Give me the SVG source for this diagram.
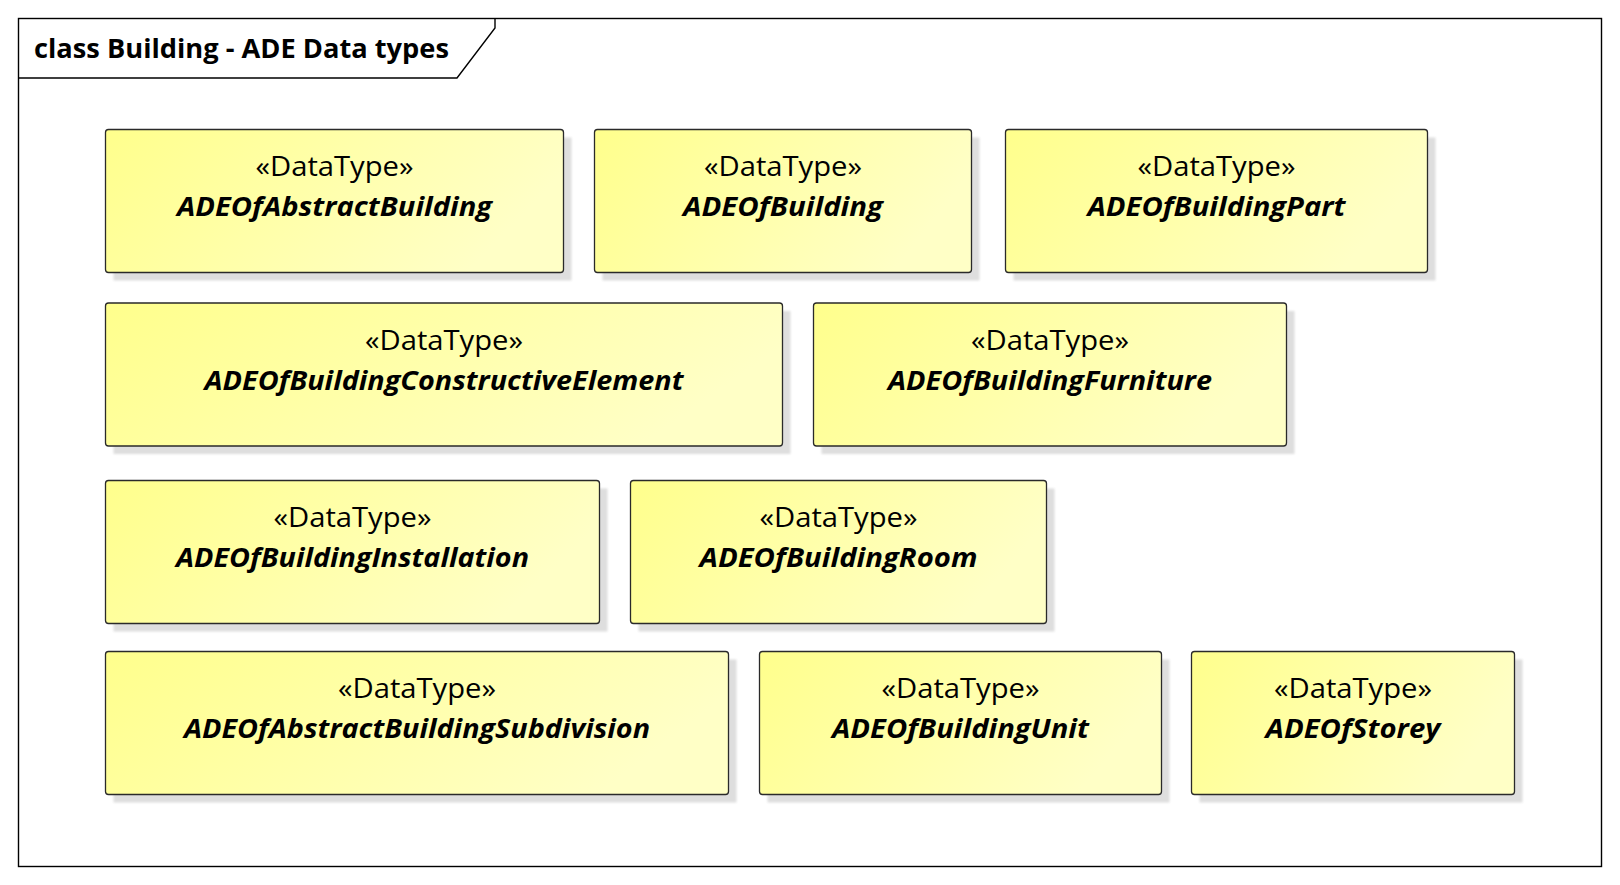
<svg xmlns="http://www.w3.org/2000/svg" width="1620" height="885" viewBox="0 0 1620 885">
<defs>
<linearGradient id="fill" x1="0" y1="0" x2="1" y2="0.3">
<stop offset="0" stop-color="#ffff8c"/>
<stop offset="1" stop-color="#ffffc6"/>
</linearGradient>
<filter id="blur" x="-5%" y="-5%" width="110%" height="110%"><feGaussianBlur stdDeviation="1"/></filter>
</defs>
<style>
.frame{fill:#fff;stroke:#000;stroke-width:1.4}
.hdr{fill:none;stroke:#000;stroke-width:1.4}
.title{font-family:"Open Sans","DejaVu Sans",sans-serif;font-weight:bold;font-size:27px;fill:#000}
.shadow{fill:#dedede;filter:url(#blur)}
.box{fill:url(#fill);stroke:#2a2a2a;stroke-width:1.3}
.st{font-family:"Open Sans","DejaVu Sans",sans-serif;font-size:27px;fill:#000;text-anchor:middle}
.nm{font-family:"Open Sans","DejaVu Sans",sans-serif;font-size:27px;font-weight:bold;font-style:italic;fill:#000;text-anchor:middle}
</style>
<rect width="1620" height="885" fill="#fff"/>
<rect class="frame" x="18.5" y="18.5" width="1583" height="848"/>
<path class="hdr" d="M18.5,78 H457 L495,28 V18.5"/>
<text class="title" x="34" y="58" textLength="415" lengthAdjust="spacingAndGlyphs">class Building - ADE Data types</text>
<g id="connectors"></g>
<g id="ADEOfAbstractBuilding">
<rect class="shadow" x="113.5" y="137.5" width="458" height="143"/>
<rect class="box" x="105.5" y="129.5" width="458" height="143" rx="3"/>
<text class="st" x="334.5" y="176" textLength="158" lengthAdjust="spacingAndGlyphs">«DataType»</text>
<text class="nm" x="334.5" y="216" textLength="315" lengthAdjust="spacingAndGlyphs">ADEOfAbstractBuilding</text>
</g>
<g id="ADEOfBuilding">
<rect class="shadow" x="602.5" y="137.5" width="377" height="143"/>
<rect class="box" x="594.5" y="129.5" width="377" height="143" rx="3"/>
<text class="st" x="783" y="176" textLength="158" lengthAdjust="spacingAndGlyphs">«DataType»</text>
<text class="nm" x="783" y="216" textLength="200" lengthAdjust="spacingAndGlyphs">ADEOfBuilding</text>
</g>
<g id="ADEOfBuildingPart">
<rect class="shadow" x="1013.5" y="137.5" width="422" height="143"/>
<rect class="box" x="1005.5" y="129.5" width="422" height="143" rx="3"/>
<text class="st" x="1216.5" y="176" textLength="158" lengthAdjust="spacingAndGlyphs">«DataType»</text>
<text class="nm" x="1216.5" y="216" textLength="258" lengthAdjust="spacingAndGlyphs">ADEOfBuildingPart</text>
</g>
<g id="ADEOfBuildingConstructiveElement">
<rect class="shadow" x="113.5" y="311" width="677" height="143"/>
<rect class="box" x="105.5" y="303" width="677" height="143" rx="3"/>
<text class="st" x="444" y="350" textLength="158" lengthAdjust="spacingAndGlyphs">«DataType»</text>
<text class="nm" x="444" y="390" textLength="479" lengthAdjust="spacingAndGlyphs">ADEOfBuildingConstructiveElement</text>
</g>
<g id="ADEOfBuildingFurniture">
<rect class="shadow" x="821.5" y="311" width="473" height="143"/>
<rect class="box" x="813.5" y="303" width="473" height="143" rx="3"/>
<text class="st" x="1050" y="350" textLength="158" lengthAdjust="spacingAndGlyphs">«DataType»</text>
<text class="nm" x="1050" y="390" textLength="324" lengthAdjust="spacingAndGlyphs">ADEOfBuildingFurniture</text>
</g>
<g id="ADEOfBuildingInstallation">
<rect class="shadow" x="113.5" y="488.5" width="494" height="143"/>
<rect class="box" x="105.5" y="480.5" width="494" height="143" rx="3"/>
<text class="st" x="352.5" y="527" textLength="158" lengthAdjust="spacingAndGlyphs">«DataType»</text>
<text class="nm" x="352.5" y="567" textLength="353" lengthAdjust="spacingAndGlyphs">ADEOfBuildingInstallation</text>
</g>
<g id="ADEOfBuildingRoom">
<rect class="shadow" x="638.5" y="488.5" width="416" height="143"/>
<rect class="box" x="630.5" y="480.5" width="416" height="143" rx="3"/>
<text class="st" x="838.5" y="527" textLength="158" lengthAdjust="spacingAndGlyphs">«DataType»</text>
<text class="nm" x="838.5" y="567" textLength="278" lengthAdjust="spacingAndGlyphs">ADEOfBuildingRoom</text>
</g>
<g id="ADEOfAbstractBuildingSubdivision">
<rect class="shadow" x="113.5" y="659.5" width="623" height="143"/>
<rect class="box" x="105.5" y="651.5" width="623" height="143" rx="3"/>
<text class="st" x="417" y="698" textLength="158" lengthAdjust="spacingAndGlyphs">«DataType»</text>
<text class="nm" x="417" y="738" textLength="466" lengthAdjust="spacingAndGlyphs">ADEOfAbstractBuildingSubdivision</text>
</g>
<g id="ADEOfBuildingUnit">
<rect class="shadow" x="767.5" y="659.5" width="402" height="143"/>
<rect class="box" x="759.5" y="651.5" width="402" height="143" rx="3"/>
<text class="st" x="960.5" y="698" textLength="158" lengthAdjust="spacingAndGlyphs">«DataType»</text>
<text class="nm" x="960.5" y="738" textLength="257" lengthAdjust="spacingAndGlyphs">ADEOfBuildingUnit</text>
</g>
<g id="ADEOfStorey">
<rect class="shadow" x="1199.5" y="659.5" width="323" height="143"/>
<rect class="box" x="1191.5" y="651.5" width="323" height="143" rx="3"/>
<text class="st" x="1353" y="698" textLength="158" lengthAdjust="spacingAndGlyphs">«DataType»</text>
<text class="nm" x="1353" y="738" textLength="175" lengthAdjust="spacingAndGlyphs">ADEOfStorey</text>
</g>
</svg>
